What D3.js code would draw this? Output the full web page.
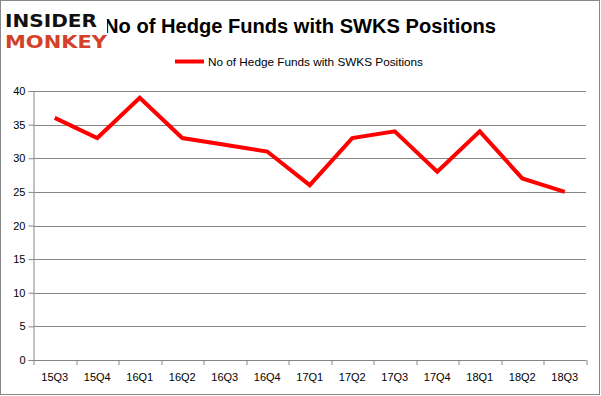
<!DOCTYPE html>
<html>
<head>
<meta charset="utf-8">
<script src="https://cdn.jsdelivr.net/npm/d3@7"></script>
<style>
  body { margin: 0; background: #fff; }
  svg { display: block; }
</style>
</head>
<body>
<div id="chart"></div>
<script>
// quarters and hedge fund counts
var quarters = ["15Q3", "15Q4", "16Q1", "16Q2", "16Q3", "16Q4", "17Q1",
                "17Q2", "17Q3", "17Q4", "18Q1", "18Q2", "18Q3"];
var funds = [36, 33, 39, 33, 32, 31, 26, 33, 34, 28, 34, 27, 25];
var yTicks = [0, 5, 10, 15, 20, 25, 30, 35, 40];
var seriesName = "No of Hedge Funds with SWKS Positions";

var W = 601, H = 396;
var margin = {top: 91, right: 15, bottom: 36, left: 33.5},
    width = 586 - margin.left,
    height = 360 - margin.top;

var svg = d3.select("#chart").append("svg")
    .attr("width", W)
    .attr("height", H);

// outer border
svg.append("rect")
    .attr("x", 0.5).attr("y", 0.5)
    .attr("width", W - 2).attr("height", H - 2)
    .attr("fill", "#fff")
    .attr("stroke", "#888")
    .attr("stroke-width", 1);

var g = svg.append("g")
    .attr("transform", "translate(" + margin.left + "," + margin.top + ")");

var x = d3.scaleBand().domain(quarters).range([0, width]);
var y = d3.scaleLinear().domain([0, 40]).range([height, 0]);

// gridlines
g.selectAll("line.grid")
    .data(yTicks)
    .enter().append("line")
    .attr("class", "grid")
    .attr("x1", 0).attr("x2", width)
    .attr("y1", function(d) { return Math.round(y(d)) + 0.5; })
    .attr("y2", function(d) { return Math.round(y(d)) + 0.5; })
    .attr("stroke", "#868686")
    .attr("stroke-width", 1);

// y axis
var yAxis = g.append("g")
    .call(d3.axisLeft(y).tickValues(yTicks).tickSize(5).tickPadding(3));
yAxis.select(".domain").attr("stroke", "#868686");
yAxis.selectAll(".tick line").attr("stroke", "#868686");
yAxis.selectAll("text")
    .attr("font-family", "Liberation Sans, Arial, sans-serif")
    .attr("font-size", "11px")
    .attr("fill", "#000");

// x axis, ticks on band edges
var xg = g.append("g").attr("transform", "translate(0," + height + ")");
xg.append("line")
    .attr("x1", 0).attr("x2", width)
    .attr("y1", 0.5).attr("y2", 0.5)
    .attr("stroke", "#868686");
var edges = quarters.map(function(q) { return x(q); }).concat([width]);
xg.selectAll("line.tick")
    .data(edges)
    .enter().append("line")
    .attr("class", "tick")
    .attr("x1", function(d) { return Math.round(d) + 0.5; })
    .attr("x2", function(d) { return Math.round(d) + 0.5; })
    .attr("y1", 0).attr("y2", 5)
    .attr("stroke", "#868686");
xg.selectAll("text")
    .data(quarters)
    .enter().append("text")
    .attr("x", function(d) { return x(d) + x.bandwidth() / 2; })
    .attr("y", 21)
    .attr("text-anchor", "middle")
    .attr("font-family", "Liberation Sans, Arial, sans-serif")
    .attr("font-size", "11px")
    .attr("fill", "#000")
    .text(function(d) { return d; });

// the line
var line = d3.line()
    .x(function(d, i) { return x(quarters[i]) + x.bandwidth() / 2; })
    .y(function(d) { return y(d); });

g.append("path")
    .datum(funds)
    .attr("d", line)
    .attr("fill", "none")
    .attr("stroke", "#ff0000")
    .attr("stroke-width", 4)
    .attr("stroke-linejoin", "miter");

// title
svg.append("text")
    .attr("x", 300)
    .attr("y", 33)
    .attr("text-anchor", "middle")
    .attr("font-family", "Liberation Sans, Arial, sans-serif")
    .attr("font-weight", "bold")
    .attr("font-size", "20px")
    .attr("textLength", 392)
    .attr("lengthAdjust", "spacingAndGlyphs")
    .attr("fill", "#000")
    .text(seriesName);

// legend
svg.append("line")
    .attr("x1", 175).attr("x2", 204)
    .attr("y1", 61.5).attr("y2", 61.5)
    .attr("stroke", "#ff0000")
    .attr("stroke-width", 4);
svg.append("text")
    .attr("x", 208)
    .attr("y", 65.5)
    .attr("font-family", "Liberation Sans, Arial, sans-serif")
    .attr("font-size", "11px")
    .attr("textLength", 215)
    .attr("lengthAdjust", "spacingAndGlyphs")
    .attr("fill", "#000")
    .text(seriesName);

// logo (covers the start of the title, as in the original image)
var logo = svg.append("g");
logo.append("rect")
    .attr("x", 3).attr("y", 6)
    .attr("width", 104).attr("height", 44)
    .attr("fill", "#fff");
logo.append("text")
    .attr("x", 5).attr("y", 27)
    .attr("font-family", "DejaVu Sans, sans-serif")
    .attr("font-weight", "bold")
    .attr("font-size", "18px")
    .attr("textLength", 92)
    .attr("lengthAdjust", "spacingAndGlyphs")
    .attr("fill", "#111")
    .text("INSIDER");
logo.append("text")
    .attr("x", 5).attr("y", 48)
    .attr("font-family", "DejaVu Sans, sans-serif")
    .attr("font-weight", "bold")
    .attr("font-size", "18px")
    .attr("textLength", 102)
    .attr("lengthAdjust", "spacingAndGlyphs")
    .attr("fill", "#d5402b")
    .text("MONKEY");
</script>
</body>
</html>
